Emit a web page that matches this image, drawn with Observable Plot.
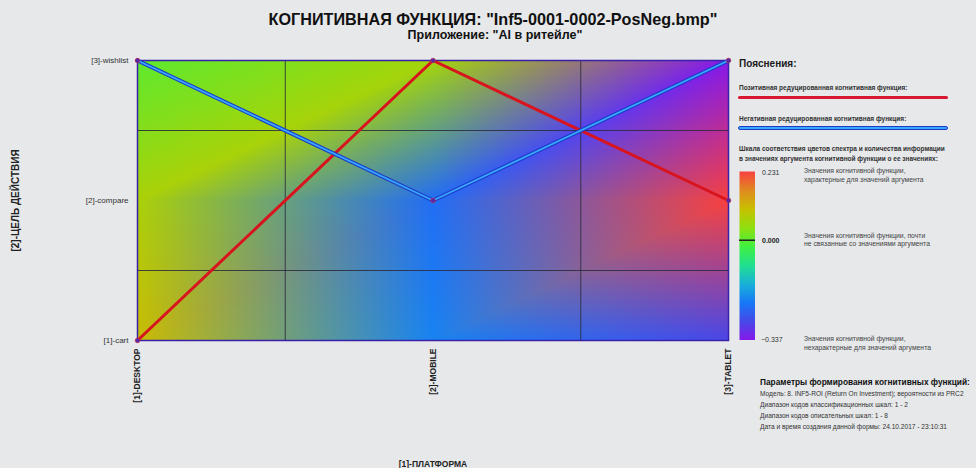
<!DOCTYPE html>
<html><head><meta charset="utf-8">
<script src="https://cdn.jsdelivr.net/npm/d3@7"></script>
<script src="https://cdn.jsdelivr.net/npm/@observablehq/plot@0.6"></script>
<style>
html,body{margin:0;padding:0;background:#e6e8ea;overflow:hidden;}
#wrap{position:relative;width:976px;height:468px;font-family:Arial,"Liberation Sans",sans-serif;color:#111;overflow:hidden;background:#e6e8ea;}
#wrap svg{position:absolute;left:0;top:0;}
.t{position:absolute;white-space:nowrap;line-height:1;}
</style></head><body><div id="wrap"></div>
<script>
// ---- data ----
const platforms = ["[1]-DESKTOP", "[2]-MOBILE", "[3]-TABLET"];
const platformCodes = [1, 2, 3];
const actions = ["[1]-cart", "[2]-compare", "[3]-wishlist"];
const actionCodes = [1, 2, 3];
// information values per platform, in action order (cart, compare, wishlist)
const infoDesktop = [0.110, 0.072, 0.002];
const infoMobile = [-0.198, -0.224, 0.064];
const infoTablet = [-0.276, 0.231, -0.337];
const scaleMax = 0.231;
const scaleMin = -0.337;
const xTitle = "[1]-ПЛАТФОРМА";
const yTitle = "[2]-ЦЕЛЬ ДЕЙСТВИЯ";

// spectrum (style) from min (violet) to max (red)
const spectrum = ["#8818e8", "#4848e8", "#1878f8", "#18b0d8", "#20e090", "#40f040", "#90e010", "#c8c000", "#e08a20", "#f84040"];

const columns = [infoDesktop, infoMobile, infoTablet];
const cells = platformCodes.flatMap((xc, i) => actionCodes.map((yc, j) => ({x: xc, y: yc, v: columns[i][j]})));
const posLine = platformCodes.map((xc, i) => ({x: xc, y: actionCodes[d3.maxIndex(columns[i])]}));
const negLine = platformCodes.map((xc, i) => ({x: xc, y: actionCodes[d3.minIndex(columns[i])]}));
const gridX = d3.pairs(platformCodes, (a, b) => (a + b) / 2);
const gridY = d3.pairs(actionCodes, (a, b) => (a + b) / 2);

const colorOpts = {type: "linear", domain: [scaleMin, scaleMax], interpolate: d3.piecewise(d3.interpolateRgb, spectrum)};
const colorScale = Plot.scale({color: colorOpts});

// Gouraud shading (RGB) over the grid of samples, triangles split along "/" diagonals
function gouraudRGB(index, width, height, X, Y, F) {
  const idx = Array.from(index);
  const rnd = (v) => Math.round(v * 1000) / 1000;
  const xs = [...new Set(idx.map((i) => rnd(X[i])))].sort((a, b) => a - b);
  const ys = [...new Set(idx.map((i) => rnd(Y[i])))].sort((a, b) => a - b);
  const C = xs.map(() => ys.map(() => null));
  for (const i of idx) C[xs.indexOf(rnd(X[i]))][ys.indexOf(rnd(Y[i]))] = d3.rgb(F[i]);
  const seg = (arr, v) => { let k = 0; while (k < arr.length - 2 && v > arr[k + 1]) k++; return k; };
  const cl = (v) => Math.max(0, Math.min(1, v));
  const out = new Array(width * height);
  for (let py = 0; py < height; py++) {
    const yc = py + 0.5, k = seg(ys, yc);
    const w = cl((yc - ys[k]) / (ys[k + 1] - ys[k]));
    for (let px = 0; px < width; px++) {
      const xc = px + 0.5, j = seg(xs, xc);
      const u = cl((xc - xs[j]) / (xs[j + 1] - xs[j]));
      const c00 = C[j][k], c10 = C[j + 1][k], c01 = C[j][k + 1], c11 = C[j + 1][k + 1];
      let A, a, B, b, D, d;
      if (w <= u) { A = c00; a = 1 - u; B = c10; b = u - w; D = c11; d = w; }
      else { A = c00; a = 1 - w; B = c01; b = w - u; D = c11; d = u; }
      out[py * width + px] = `rgb(${Math.round(A.r * a + B.r * b + D.r * d)},${Math.round(A.g * a + B.g * b + D.g * d)},${Math.round(A.b * a + B.b * b + D.b * d)})`;
    }
  }
  return out;
}

const FONT = 'Arial, "Liberation Sans", sans-serif';
const wrap = document.getElementById("wrap");

const chart = Plot.plot({
  width: 976, height: 468,
  marginLeft: 137, marginRight: 248, marginTop: 60, marginBottom: 128,
  x: {domain: [1, 3]},
  y: {domain: [1, 3]},
  color: {type: "identity"},
  style: {background: "transparent", fontFamily: FONT, color: "#222"},
  marks: [
    Plot.raster(cells, {x: "x", y: "y", fill: (d) => colorScale.apply(d.v), x1: 1, y1: 1, x2: 3, y2: 3, interpolate: gouraudRGB}),
    Plot.ruleX(gridX, {stroke: "#2a2a3a", strokeWidth: 1, strokeOpacity: 0.85}),
    Plot.ruleY(gridY, {stroke: "#2a2a3a", strokeWidth: 1, strokeOpacity: 0.85}),
    Plot.frame({stroke: "#3a20a8", strokeWidth: 1.5}),
    Plot.line(posLine, {x: "x", y: "y", stroke: "#d8141e", strokeWidth: 3}),
    Plot.line(negLine, {x: "x", y: "y", stroke: "#1a3cc8", strokeWidth: 4}),
    Plot.line(negLine, {x: "x", y: "y", stroke: "#3aa8ff", strokeWidth: 1.8}),
    Plot.dot([...posLine, ...negLine], {x: "x", y: "y", r: 2.3, fill: "#5326b0", stroke: "#c0304a", strokeWidth: 0.7}),
    Plot.axisX({ticks: platformCodes, tickFormat: (i) => platforms[i - 1], tickRotate: -90, tickSize: 0, tickPadding: 8, fontWeight: "bold", fontSize: 8.5, fill: "#222", label: null}),
    Plot.axisY({ticks: actionCodes, tickFormat: (j) => actions[j - 1], tickSize: 0, tickPadding: 9, fontSize: 8, fill: "#333", label: null}),
    Plot.text([xTitle], {text: (d) => d, frameAnchor: "bottom", lineAnchor: "middle", dy: 124, fontWeight: "bold", fontSize: 8.5, fill: "#222"}),
    Plot.text([yTitle], {text: (d) => d, frameAnchor: "left", textAnchor: "middle", dx: -122, rotate: -90, fontWeight: "bold", fontSize: 10, fill: "#222"})
  ]
});
wrap.appendChild(chart);

// colour bar
const bar = Plot.plot({
  width: 16, height: 169, margin: 0,
  x: {domain: [0, 1], axis: null},
  y: {domain: [scaleMin, scaleMax], axis: null},
  color: colorOpts,
  style: {background: "transparent"},
  marks: [
    Plot.raster({fill: (x, y) => y, x1: 0, x2: 1, y1: scaleMin, y2: scaleMax}),
    Plot.ruleY([0], {stroke: "#222", strokeWidth: 1.5})
  ]
});
bar.style.left = "739px"; bar.style.top = "171px";
wrap.appendChild(bar);

function txt(s, x, y, size, weight, color, anchor) {
  const d = document.createElement("div");
  d.className = "t";
  d.textContent = s;
  d.style.left = x + "px";
  d.style.top = y + "px";
  d.style.fontSize = size + "px";
  d.style.fontWeight = weight || "normal";
  d.style.color = color || "#111";
  d.style.transform = anchor === "middle" ? "translate(-50%,-50%)" : "translate(0,-50%)";
  wrap.appendChild(d);
  return d;
}
function bar2(x, y, w, h, bg, border) {
  const d = document.createElement("div");
  d.style.position = "absolute";
  d.style.left = x + "px"; d.style.top = y + "px";
  d.style.width = w + "px"; d.style.height = h + "px";
  d.style.background = bg; d.style.borderRadius = "2px";
  if (border) d.style.border = border;
  wrap.appendChild(d);
}

txt('КОГНИТИВНАЯ ФУНКЦИЯ: "Inf5-0001-0002-PosNeg.bmp"', 493, 19, 16.2, "bold", "#111", "middle");
txt('Приложение: "AI в ритейле"', 495, 35, 12.5, "bold", "#111", "middle");

txt("Пояснения:", 739, 64, 10, "bold", "#1a1a1a");
txt("Позитивная редуцированная когнитивная функция:", 739, 88, 6.5, "bold", "#333");
bar2(738, 96, 210, 3, "#d81830");
txt("Негативная редуцированная когнитивная функция:", 739, 119, 6.5, "bold", "#333");
bar2(738, 126, 208, 1.5, "#3aa8ff", "1px solid #1a3cc8");
txt("Шкала соответствия цветов спектра и количества информации", 739, 149, 6.5, "bold", "#333");
txt("в значениях аргумента когнитивной функции о ее значениях:", 739, 159, 6.5, "bold", "#333");

txt(d3.format(".3f")(scaleMax), 762, 172, 7, "normal", "#333");
txt(d3.format(".3f")(0), 762, 240, 7, "bold", "#222");
txt(d3.format(".3f")(scaleMin), 761, 339, 7, "normal", "#333");
txt("Значения когнитивной функции,", 804, 171, 6.8, "normal", "#444");
txt("характерные для значений аргумента", 804, 180, 6.8, "normal", "#444");
txt("Значения когнитивной функции, почти", 804, 236, 6.8, "normal", "#444");
txt("не связанные со значениями аргумента", 804, 244, 6.8, "normal", "#444");
txt("Значения когнитивной функции,", 804, 339, 6.8, "normal", "#444");
txt("нехарактерные для значений аргумента", 804, 348, 6.8, "normal", "#444");

txt("Параметры формирования когнитивных функций:", 760, 382, 8.3, "bold", "#111");
txt("Модель: 8. INF5-ROI (Return On Investment); вероятности из PRC2", 760, 394, 6.6, "normal", "#333");
txt("Диапазон кодов классификационных шкал: 1 - 2", 760, 405, 6.6, "normal", "#333");
txt("Диапазон кодов описательных шкал: 1 - 8", 760, 416, 6.6, "normal", "#333");
txt("Дата и время создания данной формы: 24.10.2017 - 23:10:31", 760, 427, 6.6, "normal", "#333");
</script></body></html>
